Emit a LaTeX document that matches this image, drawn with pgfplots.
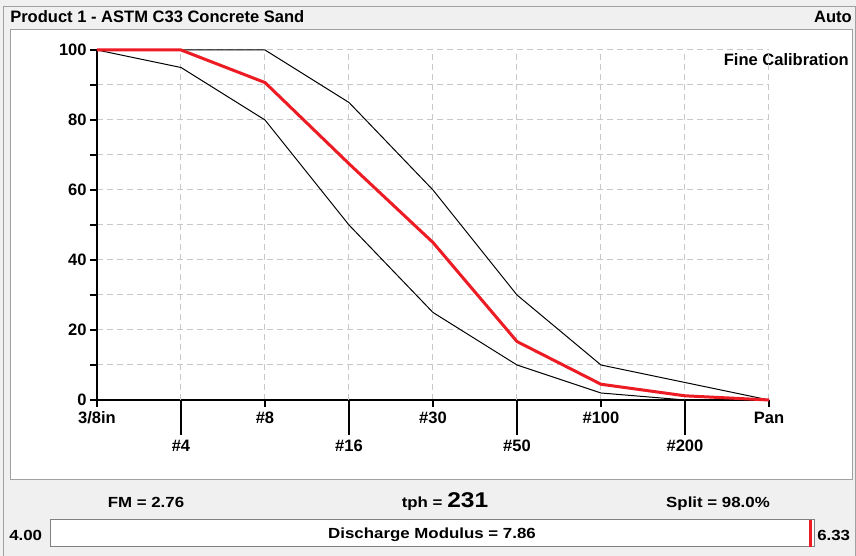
\documentclass[border=0pt]{standalone}
\usepackage{fontspec}
\setmainfont{Liberation Sans}
\newfontfamily\botfont[FakeStretch=1.15]{Liberation Sans}
\usepackage{pgfplots}
\pgfplotsset{compat=1.18}
\definecolor{winbg}{RGB}{240,240,240}
\definecolor{framegray}{RGB}{160,160,160}
\definecolor{gridgray}{RGB}{200,200,200}
\definecolor{actual}{RGB}{237,28,36}
\newcommand{\lab}{\fontsize{12.4}{14}\selectfont\bfseries}
\newcommand{\botlab}{\botfont\fontsize{11}{13}\selectfont\bfseries}
\begin{document}
\begin{tikzpicture}[x=0.75pt,y=0.75pt]
% window background and frames
\fill[winbg] (0,0) rectangle (856,556);
\draw[framegray, line width=0.75pt] (3,0) -- (3,549) -- (855,549) -- (855,0);
\filldraw[fill=white, draw=framegray, line width=0.75pt] (10,76) rectangle (852,526);
\node[anchor=base west, inner sep=0pt, font=\lab] at (10,533) {Product 1 - ASTM C33 Concrete Sand};
\node[anchor=base east, inner sep=0pt, font=\lab] at (852,533) {Auto};
\node[anchor=east, inner sep=0pt, font=\lab] at (849,496) {Fine Calibration};

\begin{axis}[
    at={(72.75pt,117pt)}, anchor=south west,
    scale only axis, width=504pt, height=262.5pt,
    xmin=0, xmax=8, ymin=0, ymax=100,
    axis lines=left,
    axis line style={-, black, line width=1pt},
    clip=false,
    tick align=outside,
    major tick length=5.25pt, minor tick length=5.25pt,
    tick style={black, line width=1pt},
    ytick={0,20,...,100},
    minor ytick={10,30,...,90},
    xtick={0,2,4,6,8},
    xticklabels={3/8in,\#8,\#30,\#100,Pan},
    extra x ticks={1,3,5,7},
    extra x tick labels={\#4,\#16,\#50,\#200},
    extra x tick style={grid=major, major tick length=26.25pt},
    grid=both,
    major grid style={gridgray, dash pattern=on 4.5pt off 3pt, line width=0.75pt},
    minor grid style={gridgray, dash pattern=on 4.5pt off 3pt, line width=0.75pt},
    tick label style={font=\lab},
    /pgf/number format/assume math mode=true,
    yticklabel style={xshift=1pt},
  ]
  % upper specification limit
  \addplot[black, line width=0.75pt] coordinates {
    (0,100) (1,100) (2,100) (3,85) (4,60) (5,30) (6,10) (7,5) (8,0)};
  % lower specification limit
  \addplot[black, line width=0.75pt] coordinates {
    (0,100) (1,95) (2,80) (3,50) (4,25) (5,10) (6,2) (7,0) (8,0)};
  % actual gradation
  \addplot[actual, line width=2.25pt] coordinates {
    (0,100) (1,100) (2,90.7) (3,67.5) (4,45) (5,16.7) (6,4.5) (7,1.2) (8,0)};
\end{axis}

% summary line
\node[anchor=base, inner sep=0pt, font=\botlab] at (146,48) {FM = 2.76};
\node[anchor=base, inner sep=0pt, font=\botlab] at (445,48) {tph = {\fontsize{16}{18}\selectfont 231}};
\node[anchor=base, inner sep=0pt, font=\botlab] at (718,48) {Split = 98.0\%};

% discharge modulus gauge
\node[anchor=west, inner sep=0pt, font=\botlab] at (9,20.5) {4.00};
\node[anchor=west, inner sep=0pt, font=\botlab] at (817,20.5) {6.33};
\begin{axis}[
    at={(37.5pt,6.75pt)}, anchor=south west,
    scale only axis, width=573pt, height=20.25pt,
    xmin=4, xmax=6.33, ymin=0, ymax=1,
    ticks=none,
    axis line style={gray, line width=0.75pt},
    axis background/.style={fill=white},
    clip=false,
  ]
  \addplot[actual, line width=2pt] coordinates {(6.32,0) (6.32,1)};
  \node[font=\botlab] at (rel axis cs:0.5,0.45) {Discharge Modulus = 7.86};
\end{axis}
\pgfresetboundingbox
\path[use as bounding box] (0,0) rectangle (856,556);
\end{tikzpicture}
\end{document}
